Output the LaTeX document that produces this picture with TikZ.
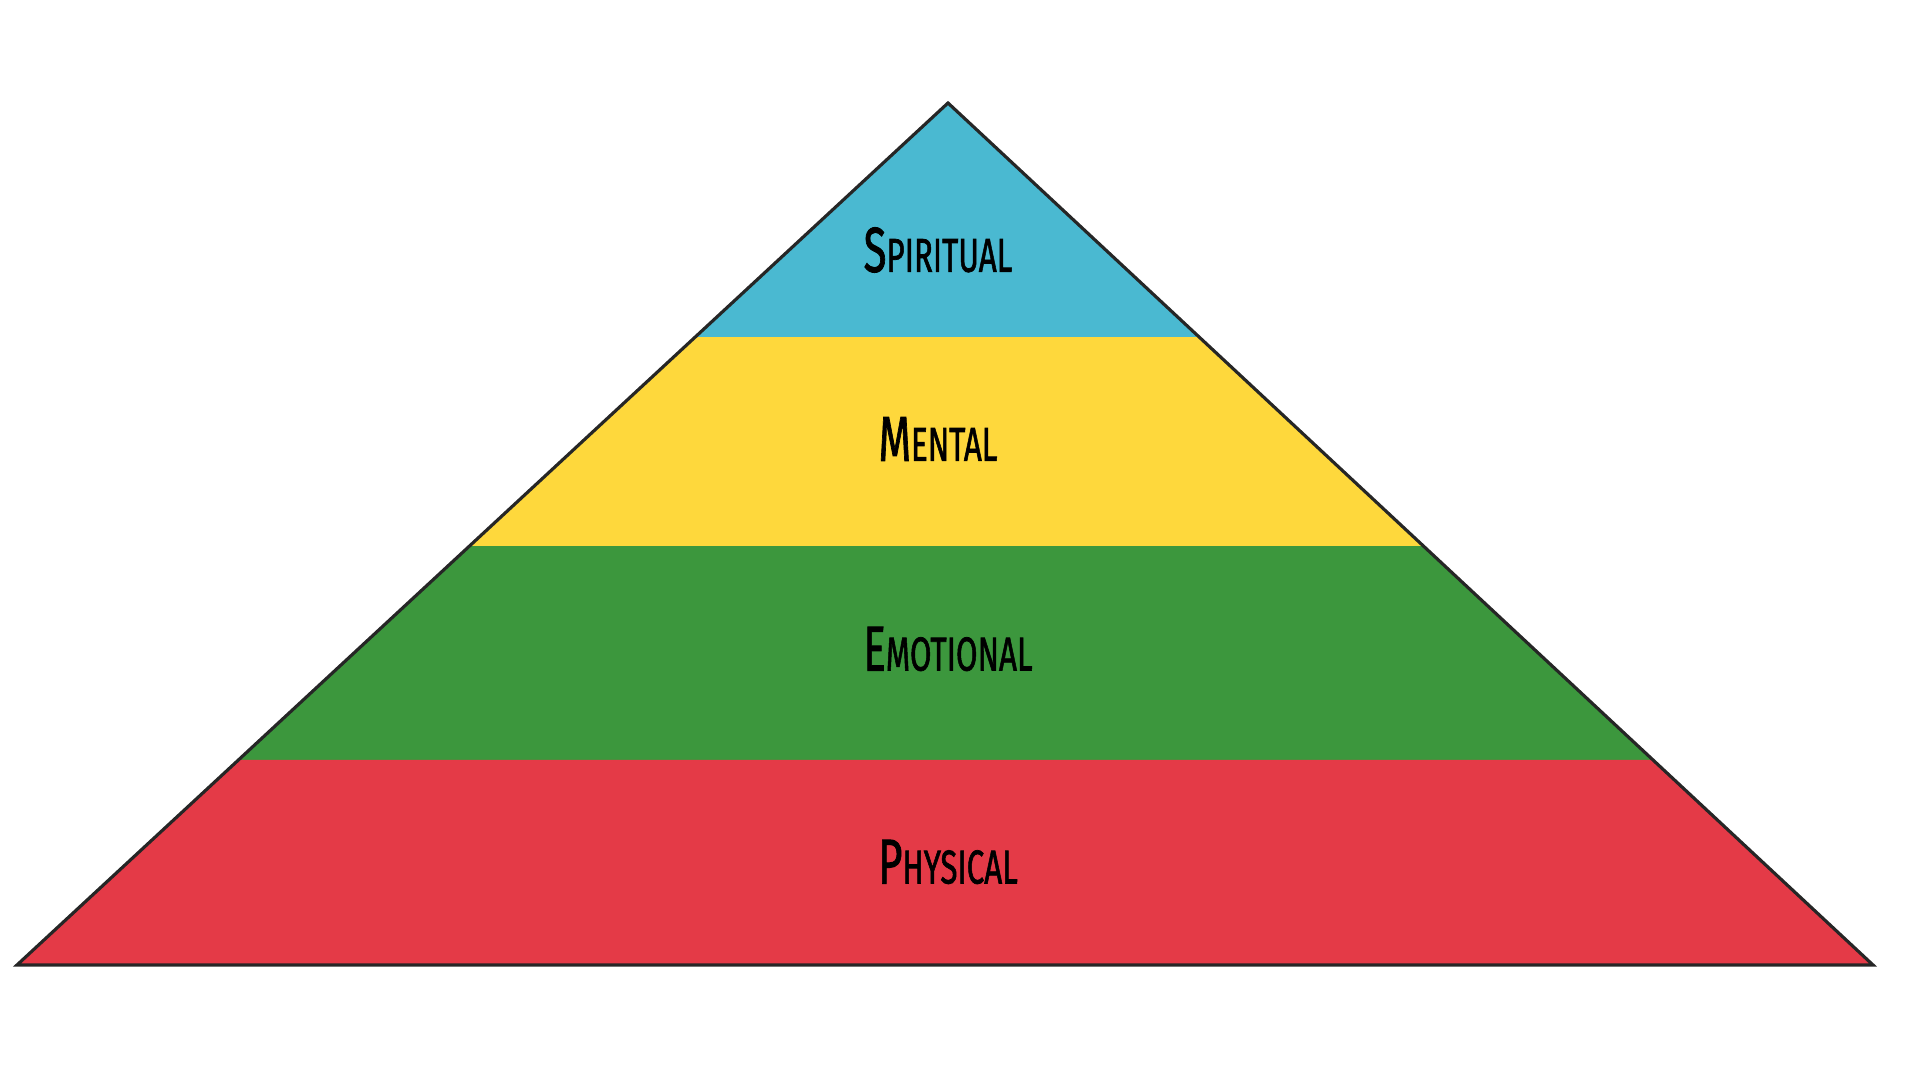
\documentclass[tikz,border=0pt]{standalone}
\usepackage{fontspec}
\setmainfont{Fira Sans}
\newfontfamily\handfont[FakeBold=1.6]{Fira Sans}
\usetikzlibrary{calc}

\definecolor{spiritblue}{HTML}{4AB9D1}
\definecolor{mentalyellow}{HTML}{FED83C}
\definecolor{emotiongreen}{HTML}{3C973D}
\definecolor{physicalred}{HTML}{E43A47}

% label in hand-lettered small caps
\newcommand{\pcaps}[2]{\scalebox{0.66}[1]{{\fontsize{18}{18}\selectfont #1}{\fontsize{13.5}{13.5}\selectfont #2}}}

\begin{document}
\begin{tikzpicture}[
  x=0.01cm, y=-0.01cm,
  font=\handfont,
  layer/.style={draw=none},
  edge/.style={draw=black!85, line width=0.9pt, line join=miter},
  lbl/.style={inner sep=0pt, text=black},
]
  \useasboundingbox (0,0) rectangle (1920,1080);

  % --- Corners of the pyramid ---
  \coordinate (apex) at (948,103);
  \coordinate (bl) at (17,965);
  \coordinate (br) at (1873,965);

  % --- Where the bands meet the slopes ---
  \foreach \t/\n in {0.2715/a, 0.514/b, 0.762/c} {
    \coordinate (l\n) at ($(apex)!\t!(bl)$);
    \coordinate (r\n) at ($(apex)!\t!(br)$);
  }

  \fill[layer, spiritblue] (apex) -- (ra) -- (la) -- cycle;
  \fill[layer, mentalyellow] (la) -- (ra) -- (rb) -- (lb) -- cycle;
  \fill[layer, emotiongreen] (lb) -- (rb) -- (rc) -- (lc) -- cycle;
  \fill[layer, physicalred] (lc) -- (rc) -- (br) -- (bl) -- cycle;

  \draw[edge] (apex) -- (br) -- (bl) -- cycle;

  % --- Labels ---
  \node[lbl] (spiritual) at (938,250) {\pcaps{S}{PIRITUAL}};
  \node[lbl] (mental) at (938,439) {\pcaps{M}{ENTAL}};
  \node[lbl] (emotional) at (948,649) {\pcaps{E}{MOTIONAL}};
  \node[lbl] (physical) at (948,862) {\pcaps{P}{HYSICAL}};

\end{tikzpicture}
\end{document}
